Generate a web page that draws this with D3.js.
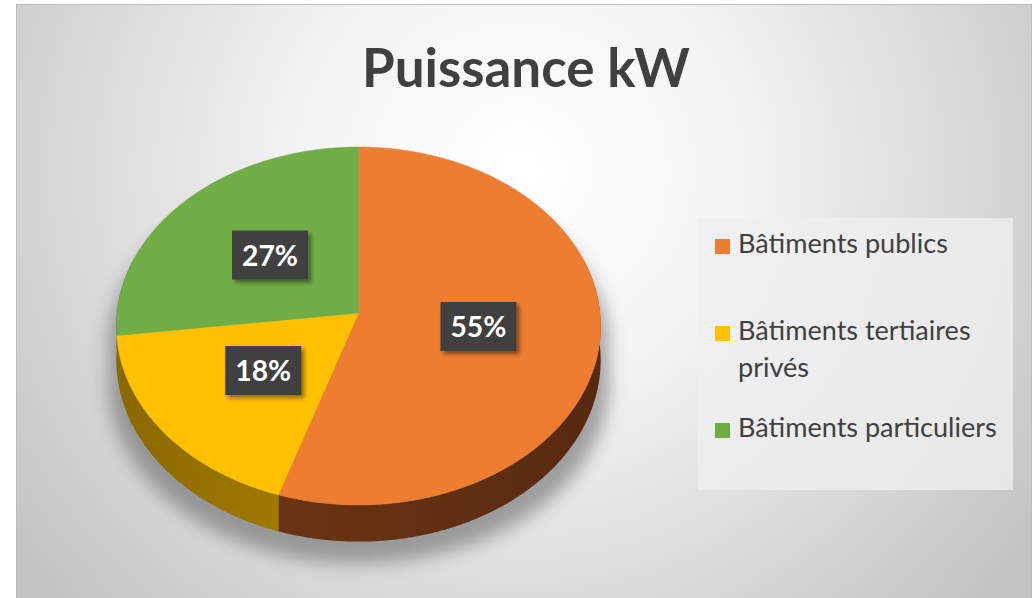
<!DOCTYPE html>
<html><head><meta charset="utf-8">
<script src="https://cdn.jsdelivr.net/npm/d3@7/dist/d3.min.js"></script>
<style>html,body{margin:0;padding:0;background:#fff;}svg{display:block;}</style>
</head><body>
<svg id="chart" width="1036" height="598"></svg>
<script>
const title = "Puissance kW";
const categories = ["Bâtiments publics", "Bâtiments tertiaires privés", "Bâtiments particuliers"];
const values = [55, 18, 27];
const labels = ["55%", "18%", "27%"];
const topColors = ["#ED7D31", "#FFC000", "#70AD47"];
const sideColors = ["#6a3414", "#a07a00", "#3f6a26"];
const sideColorsDark = ["#562a0f", "#8a6800", "#345a1e"];

const svg = d3.select("#chart");
const FONT = "Lato, 'Open Sans', 'Noto Sans', sans-serif";

const defs = svg.append("defs");
const bg = defs.append("radialGradient").attr("id", "bg").attr("gradientUnits", "userSpaceOnUse")
  .attr("cx", 520).attr("cy", 170).attr("r", 640);
bg.append("stop").attr("offset", 0).attr("stop-color", "#ffffff");
bg.append("stop").attr("offset", 0.35).attr("stop-color", "#f3f3f3");
bg.append("stop").attr("offset", 1).attr("stop-color", "#c2c2c2");

const blur = defs.append("filter").attr("id", "shadowBlur").attr("x", "-20%").attr("y", "-20%").attr("width", "140%").attr("height", "140%");
blur.append("feGaussianBlur").attr("stdDeviation", 9);
const ds = defs.append("filter").attr("id", "boxShadow").attr("x", "-20%").attr("y", "-20%").attr("width", "150%").attr("height", "150%");
ds.append("feDropShadow").attr("dx", 3).attr("dy", 3).attr("stdDeviation", 2).attr("flood-color", "#000").attr("flood-opacity", 0.45);

svg.append("rect").attr("x", 16.5).attr("y", 4.5).attr("width", 1015).attr("height", 600)
  .attr("fill", "url(#bg)").attr("stroke", "#bdbdbd").attr("stroke-width", 1);

const t = svg.append("text").attr("x", 526).attr("y", 87).attr("text-anchor", "middle")
  .attr("font-family", FONT).attr("font-weight", "bold").attr("font-size", 52)
  .attr("fill", "#404040").text(title);
function fit(sel, target) {
  const fs = +sel.attr("font-size");
  const w = sel.node().getComputedTextLength();
  sel.attr("font-size", fs * target / w);
  return fs * target / w;
}
fit(t, 328);

const cx = 358.5, cy = 313, sx = 241.5, sy = 178, dpers = 13.77, depth = 34;
function proj(a, f, down) {
  const X = f * Math.sin(a), Z = f * Math.cos(a);
  const k = dpers / (dpers + Z);
  return [cx + X * k * sx, cy - Z * k * sy + (down ? depth * k : 0)];
}
const color = d3.scaleOrdinal().domain(categories).range(topColors);
const sideColor = d3.scaleOrdinal().domain(categories).range(sideColors);
const sideDark = d3.scaleOrdinal().domain(categories).range(sideColorsDark);
const pie = d3.pie().sort(null).value(d => d.value);
const arcs = pie(categories.map((c, i) => ({ cat: c, value: values[i], label: labels[i] })));
const line = d3.line();
function arcPts(a0, a1, down) {
  const n = Math.max(2, Math.ceil((a1 - a0) / 0.01));
  return d3.range(n + 1).map(i => proj(a0 + (a1 - a0) * i / n, 1, down));
}

// shadow: silhouette of the cylinder, pushed down and slightly widened
const topRing = arcPts(Math.PI * 0.4, Math.PI * 1.6, false).reverse();
const botRing = arcPts(Math.PI * 0.4, Math.PI * 1.6, true);
const sil = arcPts(-Math.PI * 0.4, Math.PI * 0.4, false).concat(botRing.reverse().reverse());
const shadowPts = arcPts(-Math.PI * 0.5, Math.PI * 0.5, false)
  .concat(arcPts(Math.PI * 0.5, Math.PI * 1.5, true))
  .map(p => [cx + (p[0] - cx) * 1.035, p[1] + 22]);
svg.append("path").attr("d", line(shadowPts) + "Z").attr("fill", "#6a6a6a").attr("opacity", 0.6)
  .attr("filter", "url(#shadowBlur)");

const gSide = svg.append("g");
arcs.forEach((a, i) => {
  const lo = Math.max(a.startAngle, Math.PI * 0.4), hi = Math.min(a.endAngle, Math.PI * 1.6);
  if (hi <= lo) return;
  const gid = "side" + i;
  const lg = defs.append("linearGradient").attr("id", gid).attr("gradientUnits", "userSpaceOnUse")
    .attr("x1", 117).attr("x2", 600).attr("y1", 0).attr("y2", 0);
  if (i === 0) {
    lg.append("stop").attr("offset", 0.35).attr("stop-color", sideColor(a.data.cat));
    lg.append("stop").attr("offset", 1).attr("stop-color", sideDark(a.data.cat));
  } else {
    lg.append("stop").attr("offset", 0).attr("stop-color", sideDark(a.data.cat));
    lg.append("stop").attr("offset", 0.35).attr("stop-color", sideColor(a.data.cat));
  }
  const pts = arcPts(lo, hi, false).concat(arcPts(lo, hi, true).reverse());
  gSide.append("path").attr("d", line(pts) + "Z").attr("fill", "url(#" + gid + ")");
});

const gTop = svg.append("g");
arcs.forEach(a => {
  const pts = [proj(0, 0, false)].concat(arcPts(a.startAngle, a.endAngle, false));
  gTop.append("path").attr("d", line(pts) + "Z").attr("fill", color(a.data.cat))
    .attr("stroke", color(a.data.cat)).attr("stroke-width", 0.5);
});

const gLab = svg.append("g");
let labelSize = null;
arcs.forEach(a => {
  const mid = (a.startAngle + a.endAngle) / 2;
  const c = proj(mid, 0.5, false);
  const g = gLab.append("g");
  g.append("rect").attr("x", c[0] - 38).attr("y", c[1] - 25).attr("width", 76).attr("height", 49)
    .attr("fill", "#404040").attr("filter", "url(#boxShadow)");
  const tx = g.append("text").attr("x", c[0]).attr("y", c[1] + 10).attr("text-anchor", "middle")
    .attr("font-family", FONT).attr("font-weight", "bold").attr("font-size", 26).attr("fill", "#ffffff")
    .text(a.data.label);
  if (labelSize === null) labelSize = fit(tx, 56); else tx.attr("font-size", labelSize);
});

svg.append("rect").attr("x", 698).attr("y", 218).attr("width", 315).attr("height", 272)
  .attr("fill", "#efefef").attr("opacity", 0.8);
const legendRows = [
  { lines: ["Bâtiments publics"], y: 253 },
  { lines: ["Bâtiments tertiaires", "privés"], y: 340 },
  { lines: ["Bâtiments particuliers"], y: 437 }
];
const probe = svg.append("text").attr("font-family", FONT).attr("font-size", 22).text(categories[0]);
const legSize = fit(probe, 210);
probe.remove();
categories.forEach((c, i) => {
  const row = legendRows[i];
  svg.append("rect").attr("x", 715).attr("y", row.y - 14).attr("width", 15).attr("height", 15)
    .attr("fill", color(c));
  const tx = svg.append("text").attr("font-family", FONT).attr("font-size", legSize).attr("fill", "#404040");
  row.lines.forEach((l, j) => {
    tx.append("tspan").attr("x", 738).attr("y", row.y + j * 37).text(l);
  });
});
</script>
</body></html>
